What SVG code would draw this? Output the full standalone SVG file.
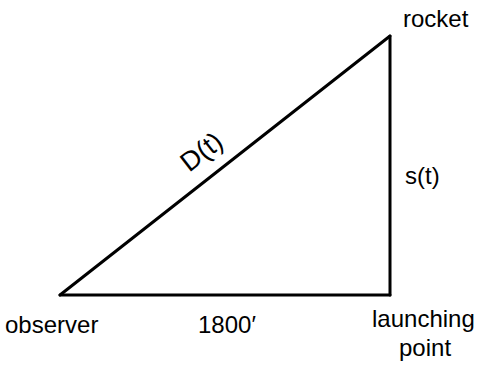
<svg xmlns="http://www.w3.org/2000/svg" width="499" height="366" viewBox="0 0 499 366">
<style>
.lbl{font-family:"Liberation Sans","DejaVu Sans",sans-serif;font-size:24px;fill:#000}
.ln{stroke:#000;stroke-width:3;fill:none;stroke-linecap:round}
</style>
<rect width="499" height="366" fill="#fff"/>
<g id="connectors">
<line class="ln" x1="60" y1="295" x2="390" y2="36"/>
<line class="ln" x1="390" y1="36" x2="390" y2="295"/>
<line class="ln" x1="60" y1="295" x2="390" y2="295"/>
</g>
<g id="rocket"><text class="lbl" x="403" y="27">rocket</text></g>
<g id="observer"><text class="lbl" x="5" y="333">observer</text></g>
<g id="launching"><text class="lbl" x="372" y="327">launching</text><text class="lbl" x="399" y="356">point</text></g>
<g id="dist"><text class="lbl" style="font-size:27px" transform="translate(207,159) rotate(-38)" text-anchor="middle">D(t)</text></g>
<g id="height"><text class="lbl" x="405" y="184">s(t)</text></g>
<g id="base"><text class="lbl" x="198" y="333">1800′</text></g>
</svg>
